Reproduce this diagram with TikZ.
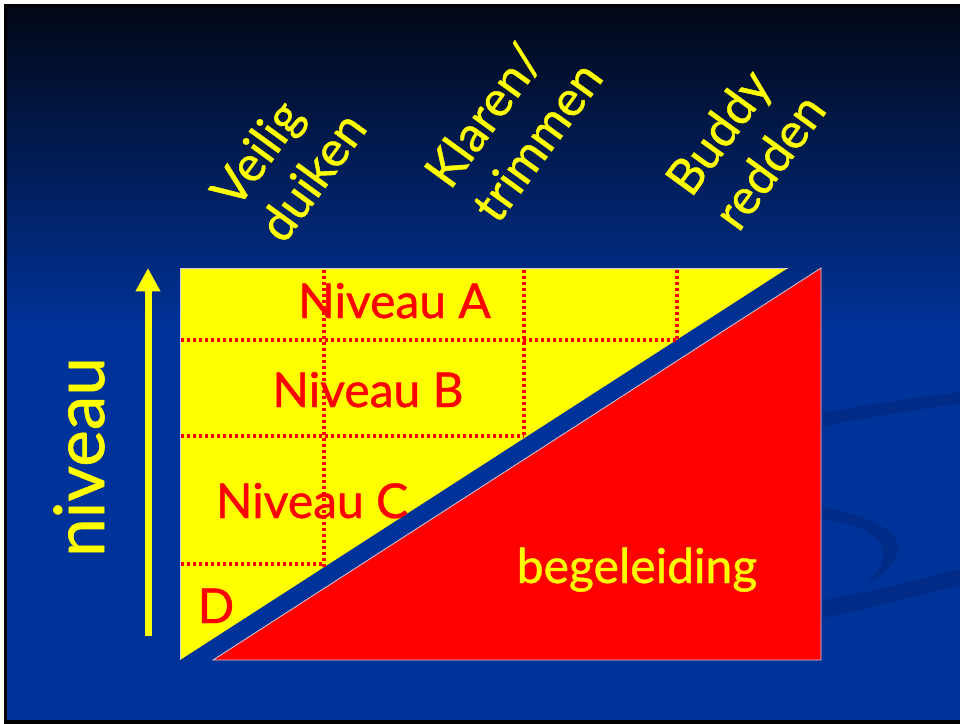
\documentclass[tikz,border=0pt]{standalone}
\usepackage{fontspec}
\setmainfont{Lato}
\newfontfamily\slidefont{Lato}[FakeBold=0.9]
\usetikzlibrary{arrows.meta}
\definecolor{slideblue}{RGB}{0,51,153}
\definecolor{slidetop}{RGB}{2,8,24}
\definecolor{swooshblue}{RGB}{0,44,136}
\definecolor{edgegray}{RGB}{205,205,220}
\definecolor{pptyellow}{RGB}{255,255,0}
\definecolor{pptred}{RGB}{255,0,0}
\begin{document}
\begin{tikzpicture}[x=0.75pt,y=-0.75pt,
  redtxt/.style={text=pptred, inner sep=0pt, font=\slidefont\fontsize{36}{43}\selectfont},
  yeltxt/.style={text=pptyellow, inner sep=0pt, font=\slidefont\fontsize{36}{43}\selectfont},
  headtxt/.style={text=pptyellow, inner sep=0pt, align=left, rotate=54,
    font=\slidefont\fontsize{37}{44}\selectfont},
  gridline/.style={pptred, line width=2.5pt, dash pattern=on 2.3pt off 2.2pt},
  shapeedge/.style={draw=edgegray, line width=0.6pt, line join=miter},
  swoosh/.style={fill=swooshblue}]
\useasboundingbox (0,0) rectangle (960,724);
% slide background
\fill[white] (0,0) rectangle (960,724);
\fill[black] (4,4) rectangle (960,724);
\shade[top color=slidetop, bottom color=slideblue] (7,8) rectangle (960,330);
\fill[slideblue] (7,329) rectangle (960,720);
% faint background swooshes
\fill[swoosh] (823,413) .. controls (870,404) and (920,397) .. (960,392) -- (960,404) .. controls (920,409) and (870,417) .. (823,426) -- cycle;
\fill[swoosh] (823,600) .. controls (880,590) and (925,578) .. (960,569) -- (960,586) .. controls (925,594) and (880,605) .. (823,618) -- cycle;
\fill[swoosh] (823,508) .. controls (890,518) and (930,548) .. (865,585) .. controls (905,548) and (875,526) .. (823,519) -- cycle;
% shapes
\coordinate (ytl) at (180,268);
\coordinate (ytr) at (788,268);
\coordinate (ybl) at (180,660);
\coordinate (rtr) at (821,268);
\coordinate (rbr) at (821,660);
\coordinate (rbl) at (213,660);
\fill[pptyellow] (ytl) -- (ytr) -- (ybl) -- cycle;
\draw[shapeedge] (ybl) -- (ytl) -- (ytr);
\fill[pptred] (rtr) -- (rbr) -- (rbl) -- cycle;
\draw[shapeedge] (rtr) -- (rbr) -- (rbl) -- cycle;
% dotted grid
\coordinate (h1l) at (181,340); \coordinate (h1r) at (677,340);
\coordinate (h2l) at (181,436); \coordinate (h2r) at (524,436);
\coordinate (h3l) at (181,564); \coordinate (h3r) at (324,564);
\coordinate (v1t) at (324,270); \coordinate (v1b) at (324,567);
\coordinate (v2t) at (524,270); \coordinate (v2b) at (524,438);
\coordinate (v3t) at (677,270); \coordinate (v3b) at (677,340);
\draw[gridline] (h1l) -- (h1r);
\draw[gridline] (h2l) -- (h2r);
\draw[gridline] (h3l) -- (h3r);
\draw[gridline] (v1t) -- (v1b);
\draw[gridline] (v2t) -- (v2b);
\draw[gridline] (v3t) -- (v3b);
% arrow
\coordinate (abot) at (148,636);
\coordinate (atop) at (148,268);
\draw[pptyellow, line width=5.25pt, -{Triangle[width=17.5pt,length=17.5pt]}] (abot) -- (atop);
% texts
\node[redtxt, anchor=base] (nA) at (394.5,318) {Niveau A};
\node[redtxt, anchor=base] (nB) at (368,407) {Niveau B};
\node[redtxt, anchor=base] (nC) at (312,518) {Niveau C};
\node[redtxt, anchor=base] (nD) at (216,623) {D};
\node[yeltxt, anchor=base] (beg) at (637,583) {begeleiding};
\node[yeltxt, anchor=base, rotate=90, font=\slidefont\fontsize{52}{60}\selectfont] (niv) at (104,457) {niveau};
\node[headtxt] (col1) at (288,159) {Veilig\\duiken};
\node[headtxt] (col2) at (513,124) {Klaren/\\trimmen};
\node[headtxt] (col3) at (745,144) {Buddy\\redden};
\end{tikzpicture}
\end{document}
